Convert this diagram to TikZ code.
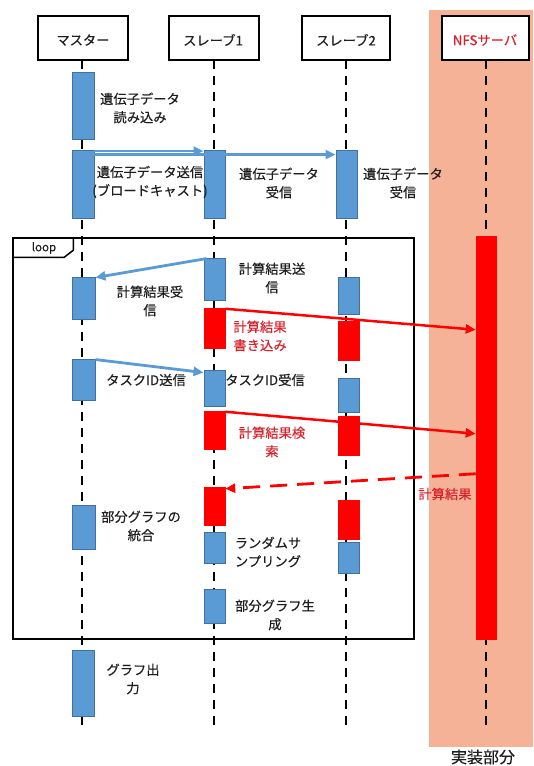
\documentclass[tikz,border=0pt]{standalone}
\usepackage{fontspec}
\setmainfont{Noto Sans CJK JP}[UprightFeatures={FakeBold=0.3}]
\usetikzlibrary{arrows.meta,fit,calc}
\definecolor{actblue}{RGB}{91,155,213}
\definecolor{actedge}{RGB}{65,113,156}
\definecolor{bgsalmon}{RGB}{245,178,150}
\definecolor{txtred}{RGB}{215,35,45}
\definecolor{txtgray}{RGB}{30,30,30}
\begin{document}
\begin{tikzpicture}[x=1pt,y=-1pt,
  hdr/.style={draw=black,fill=white,line width=1.5pt,inner sep=0pt},
  life/.style={line width=2pt,dash pattern=on 9pt off 7pt},
  bact/.style={draw=actedge,fill=actblue,line width=0.9pt,inner sep=0pt},
  ract/.style={draw=red,fill=red,line width=0.5pt,inner sep=0pt},
  lbl/.style={align=center,font=\fontsize{13.3}{18.4}\selectfont,inner sep=0pt,text=txtgray},
  rlbl/.style={lbl,text=txtred},
  frame/.style={draw=black,line width=1.5pt},
  barrow/.style={draw=actblue,line width=2.8pt,-{Triangle[length=10pt,width=9pt]}},
  rarrow/.style={draw=red,line width=2.5pt,-{Triangle[length=10pt,width=9pt]}},
]
\useasboundingbox (0,0) rectangle (533,766);
% background of implementation part
\fill[bgsalmon] (429,10) rectangle (533,747);
\node[font=\fontsize{16}{18}\selectfont,inner sep=0pt,text=txtgray] (impl) at (483,757) {実装部分};

% headers
\node[hdr,fit={(38,16)(128,60)}] (hm) {};
\node[hdr,fit={(169,16)(259,60)}] (hs1) {};
\node[hdr,fit={(302,16)(390,60)}] (hs2) {};
\node[hdr,fit={(442,16)(529,60)}] (hn) {};
\node[lbl] (thm) at (83,40) {マスター};
\node[lbl] (ths1) at (213,40) {スレーブ1};
\node[lbl] (ths2) at (346,40) {スレーブ2};
\node[lbl,text=txtred] (thn) at (485,40) {NFSサーバ};

% lifelines
\coordinate (lm0) at (82,60);    \coordinate (lm1) at (82,729);
\coordinate (ls10) at (214,60);  \coordinate (ls11) at (214,729);
\coordinate (ls20) at (346,60);  \coordinate (ls21) at (346,729);
\coordinate (ln0) at (486,60);   \coordinate (ln1) at (486,729);
\draw[life] (lm0) -- (lm1);
\draw[life] (ls10) -- (ls11);
\draw[life] (ls20) -- (ls21);
\draw[life] (ln0) -- (ln1);

% loop frame
\node[frame,fit={(13,238)(414,639)},inner sep=0pt] (loop) {};
\draw[frame] ($(loop.north west)+(61,0)$) -- ++(0,13) -- ++(-9,7) -- ($(loop.north west)+(0,20)$);
\node[font=\fontsize{11.5}{13}\selectfont,inner sep=0pt,text=txtgray] (looplbl) at (44,248) {loop};

% master activations
\node[bact,fit={(72,72)(94,139)}] (m1) {};
\node[bact,fit={(72,150)(94,218)}] (m2) {};
\node[bact,fit={(72,277)(95,319)}] (m3) {};
\node[bact,fit={(72,359)(95,400)}] (m4) {};
\node[bact,fit={(72,505)(95,549)}] (m5) {};
\node[bact,fit={(72,650)(94,716)}] (m6) {};
% slave1 activations
\node[bact,fit={(204,150)(225,218)}] (s1a) {};
\node[bact,fit={(204,258)(225,300)}] (s1b) {};
\node[ract,fit={(204,308)(225,348)}] (r1a) {};
\node[bact,fit={(204,370)(225,406)}] (s1c) {};
\node[ract,fit={(204,411)(225,449)}] (r1b) {};
\node[ract,fit={(204,487)(225,525)}] (r1c) {};
\node[bact,fit={(204,532)(225,563)}] (s1d) {};
\node[bact,fit={(204,589)(225,623)}] (s1e) {};
% slave2 activations
\node[bact,fit={(336,150)(357,218)}] (s2a) {};
\node[bact,fit={(338,277)(359,314)}] (s2b) {};
\node[ract,fit={(338,321)(359,360)}] (r2a) {};
\node[bact,fit={(338,378)(359,412)}] (s2c) {};
\node[ract,fit={(338,416)(359,455)}] (r2b) {};
\node[ract,fit={(338,500)(359,539)}] (r2c) {};
\node[bact,fit={(338,542)(359,573)}] (s2d) {};
% NFS activation
\node[ract,fit={(476,236)(496,639)}] (nb) {};

% messages
\draw[barrow] ([yshift=-1.5pt]m2.north east) -- ([yshift=-1.5pt]s1a.north west);
\draw[barrow] ([yshift=-5pt]m2.north east) -- ([yshift=-5pt]s2a.north west);
\draw[barrow] ([xshift=3pt,yshift=-1pt]s1b.north west) -- ([yshift=-1pt]m3.north east);
\draw[rarrow] ([yshift=-1pt]r1a.north east) -- ($(nb.north west)+(0,94)$);
\draw[barrow] ([yshift=-1pt]m4.north east) -- ([yshift=-3pt]s1c.north west);
\draw[rarrow] ([yshift=-1pt]r1b.north east) -- ($(nb.north west)+(0,198)$);
\draw[rarrow,line width=2.8pt,dash pattern=on 17pt off 10pt] ($(nb.north west)+(0,238)$) -- ([yshift=-2pt]r1c.north east);

% labels
\node[lbl] (t1) at (140,108) {遺伝子データ\\読み込み};
\node[lbl] (t2) at (150,182) {遺伝子データ送信\\(ブロードキャスト)};
\node[lbl] (t3) at (279,183) {遺伝子データ\\受信};
\node[lbl] (t4) at (403,183) {遺伝子データ\\受信};
\node[lbl] (t5) at (272,278) {計算結果送\\信};
\node[lbl] (t6) at (150,301) {計算結果受\\信};
\node[rlbl] (t7) at (260,336) {計算結果\\書き込み};
\node[lbl] (t8) at (146,380) {タスクID送信};
\node[lbl] (t9) at (265,380) {タスクID受信};
\node[rlbl] (t10) at (272,442) {計算結果検\\索};
\node[rlbl] (t11) at (445,494) {計算結果};
\node[lbl] (t12) at (141,526) {部分グラフの\\統合};
\node[lbl] (t13) at (268,552) {ランダムサ\\ンプリング};
\node[lbl] (t14) at (275,615) {部分グラフ生\\成};
\node[lbl] (t15) at (133,679) {グラフ出\\力};
\end{tikzpicture}
\end{document}
